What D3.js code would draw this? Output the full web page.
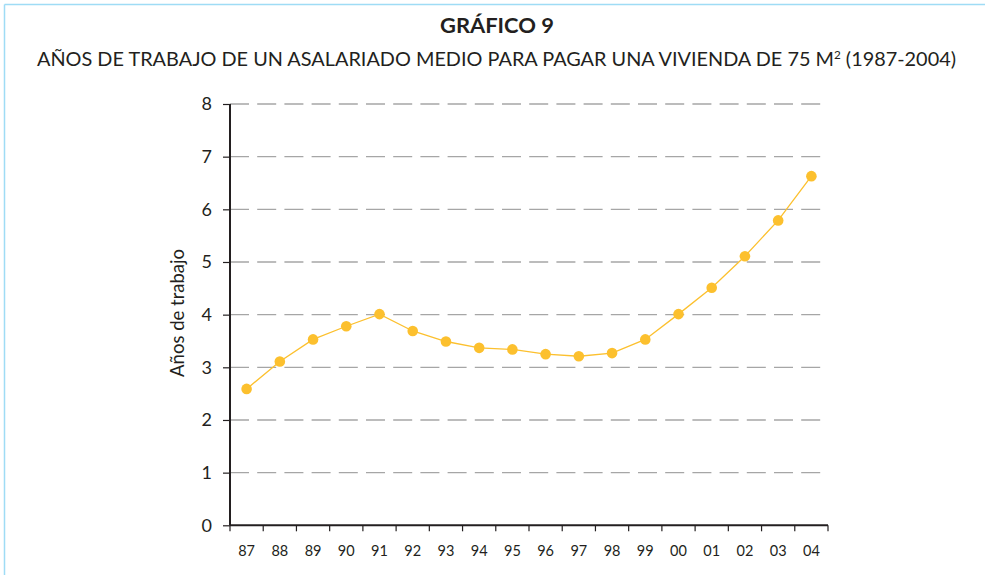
<!DOCTYPE html>
<html>
<head>
<meta charset="utf-8">
<script src="https://cdn.jsdelivr.net/npm/d3@7"></script>
<style>
  html, body { margin: 0; padding: 0; background: #fff; }
  svg { display: block; }
  text { font-family: Lato, "Open Sans", sans-serif; fill: #231f20; }
</style>
</head>
<body>
<svg id="chart" width="985" height="575"></svg>
<script>
const categories = ["87","88","89","90","91","92","93","94","95","96","97","98","99","00","01","02","03","04"];
const values = [2.59, 3.11, 3.53, 3.78, 4.01, 3.69, 3.49, 3.37, 3.34, 3.25, 3.21, 3.27, 3.53, 4.01, 4.51, 5.11, 5.79, 6.63];
const yTicks = [0, 1, 2, 3, 4, 5, 6, 7, 8];
const titleText = "GRÁFICO 9";
const subtitleMain = "AÑOS DE TRABAJO DE UN ASALARIADO MEDIO PARA PAGAR UNA VIVIENDA DE 75 M";
const subtitleSup = "2";
const subtitleEnd = " (1987-2004)";
const yLabel = "Años de trabajo";

const svg = d3.select("#chart");
const W = 985, H = 575;
const x0 = 230, x1 = 828, yTop = 104, yBot = 525.3;

// frame
svg.append("line").attr("x1", 4.5).attr("x2", 4.5).attr("y1", 4.5).attr("y2", H)
  .attr("stroke", "#9fdcf5").attr("stroke-width", 1.5);
svg.append("line").attr("x1", 4.5).attr("x2", W).attr("y1", 4.5).attr("y2", 4.5)
  .attr("stroke", "#9fdcf5").attr("stroke-width", 1.5);

// titles
svg.append("text").attr("x", 497).attr("y", 33).attr("text-anchor", "middle")
  .attr("textLength", 114).attr("lengthAdjust", "spacingAndGlyphs")
  .style("font-weight", "bold").style("font-size", "20px").text(titleText);

const sub = svg.append("text").attr("x", 37).attr("y", 66)
  .attr("textLength", 919).attr("lengthAdjust", "spacingAndGlyphs")
  .style("font-size", "19.5px");
sub.append("tspan").text(subtitleMain);
sub.append("tspan").attr("dy", -7).style("font-size", "11.5px").text(subtitleSup);
sub.append("tspan").attr("dy", 7).text(subtitleEnd);

const x = d3.scaleBand().domain(categories).range([x0, x1]).padding(0);
const y = d3.scaleLinear().domain([0, 8]).range([yBot, yTop]);

// gridlines
svg.append("g").selectAll("line").data(yTicks.filter(d => d > 0)).join("line")
  .attr("x1", x0).attr("x2", x1)
  .attr("y1", d => y(d)).attr("y2", d => y(d))
  .attr("stroke", "#a6a6a6").attr("stroke-width", 1.3)
  .attr("stroke-dasharray", "19,8.2");

// y axis
const yAxis = svg.append("g").attr("transform", `translate(${x0},0)`)
  .call(d3.axisLeft(y).tickValues(yTicks).tickSize(7).tickPadding(11).tickFormat(d3.format("d")));
yAxis.select(".domain").attr("stroke", "#231f20").attr("stroke-width", 2)
  .attr("d", `M0,${yTop}V${yBot}`);
yAxis.selectAll(".tick line").attr("stroke", "#231f20").attr("stroke-width", 1.2);
yAxis.selectAll(".tick text").style("font-size", "18px").attr("fill", "#231f20");

// x axis
const xAxis = svg.append("g").attr("transform", `translate(0,${yBot})`)
  .call(d3.axisBottom(x).tickSize(0).tickPadding(20));
xAxis.select(".domain").attr("stroke", "#231f20").attr("stroke-width", 2)
  .attr("d", `M${x0},0H${x1}`);
xAxis.selectAll(".tick text").style("font-size", "14.5px").attr("fill", "#231f20");
// tick marks at band boundaries
const bounds = categories.map(c => x(c)).concat([x1]);
xAxis.append("g").selectAll("line").data(bounds).join("line")
  .attr("x1", d => d).attr("x2", d => d).attr("y1", 0).attr("y2", 6)
  .attr("stroke", "#231f20").attr("stroke-width", 1.2);

// y label
svg.append("text")
  .attr("transform", `translate(184,${313}) rotate(-90)`)
  .attr("text-anchor", "middle").style("font-size", "18.5px").text(yLabel);

// line + points
const cx = d => x(d.c) + x.bandwidth() / 2;
const data = categories.map((c, i) => ({ c, v: values[i] }));
svg.append("path").datum(data)
  .attr("fill", "none").attr("stroke", "#fcc02e").attr("stroke-width", 1.3)
  .attr("d", d3.line().x(cx).y(d => y(d.v)));
svg.append("g").selectAll("circle").data(data).join("circle")
  .attr("cx", cx).attr("cy", d => y(d.v)).attr("r", 5.3)
  .attr("fill", "#fcc02e");
</script>
</body>
</html>
